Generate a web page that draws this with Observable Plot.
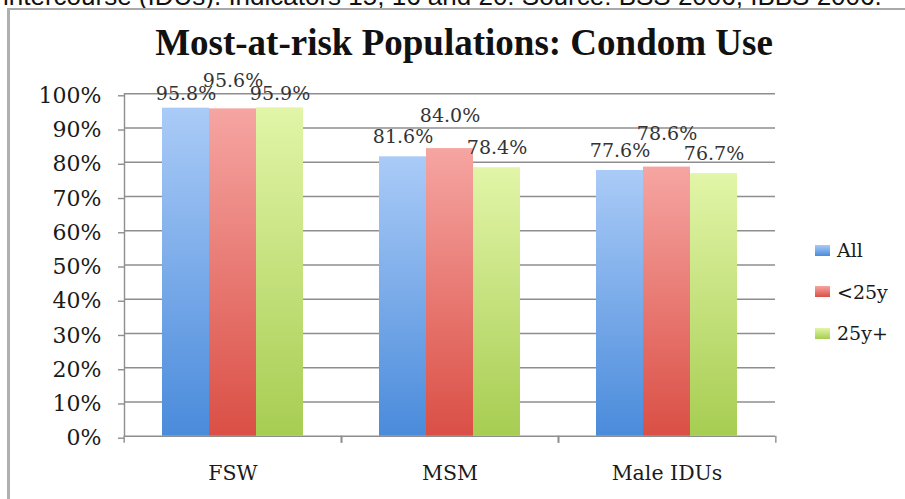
<!DOCTYPE html>
<html>
<head>
<meta charset="utf-8">
<script src="https://cdn.jsdelivr.net/npm/d3@7"></script>
<script src="https://cdn.jsdelivr.net/npm/@observablehq/plot@0.6"></script>
<style>
  html, body { margin: 0; padding: 0; background: #fff; }
  body { width: 905px; height: 499px; overflow: hidden; position: relative; }
  #note { position: absolute; left: 3px; top: -19px; white-space: nowrap; font: 26px "Liberation Sans", Arial, sans-serif; color: #111; line-height: normal; }
  #frame { position: absolute; left: 7px; top: 8px; width: 1000px; height: 700px; border-top: 2.5px solid #a9a9a9; border-left: 3px solid #b0b0b0; box-sizing: border-box; pointer-events: none; }
  #chart { position: absolute; left: 0; top: 0; }
  #title { position: absolute; left: 0; width: 928px; top: 24px; text-align: center; font: bold 37px "Liberation Serif", "Times New Roman", serif; line-height: 1; color: #111; white-space: nowrap; }
  .leg { position: absolute; font: 19px "DejaVu Serif", serif; line-height: 1; color: #1a1a1a; white-space: nowrap; }
  .sw { position: absolute; width: 15px; height: 11px; }
  #chart svg text { font-family: "DejaVu Serif", serif; }
</style>
</head>
<body>
<div id="chart"></div>
<div id="note">intercourse (IDUs). Indicators 15, 16 and 20. Source: BSS 2006, IBBS 2006.</div>
<div id="frame"></div>
<div id="title">Most-at-risk Populations: Condom Use</div>
<div id="legend"></div>
<script>
// ---- data ----
const categories = ["FSW", "MSM", "Male IDUs"];
const series = ["All", "<25y", "25y+"];
const valuesAll = [95.8, 81.6, 77.6];
const valuesUnder25 = [95.6, 84.0, 78.6];
const values25Plus = [95.9, 78.4, 76.7];
const yTicks = [0, 10, 20, 30, 40, 50, 60, 70, 80, 90, 100];

const seriesValues = [valuesAll, valuesUnder25, values25Plus];
const gradTop = ["#aacbf7", "#f6a5a2", "#e2f5a8"];
const gradBottom = ["#4a8bdb", "#da4f45", "#a7cd52"];
const gradIds = ["gAll", "gU25", "g25p"];

const data = [];
categories.forEach((c, i) => series.forEach((s, j) => data.push({category: c, series: s, value: seriesValues[j][i]})));

const W = 905, H = 499, mL = 123, mR = 129, mT = 93.3, mB = 63.3;
const half = (W - mL - mR) / categories.length / 2;
const grid = "#8e8e8e";
const serif = "DejaVu Serif, serif";
const label = d => d.value.toFixed(1) + "%";

const svg = Plot.plot({
  width: W, height: H,
  marginLeft: mL, marginRight: mR, marginTop: mT, marginBottom: mB,
  style: {background: "transparent", fontFamily: serif, color: "#1a1a1a"},
  fx: {domain: categories, padding: 0, label: null},
  x: {domain: series, paddingInner: 0, paddingOuter: 0.77, axis: null},
  y: {domain: [0, 100], axis: null},
  color: {domain: series, range: gradIds.map(id => `url(#${id})`)},
  marks: [
    Plot.ruleY(yTicks, {stroke: grid, strokeWidth: 1.4}),
    Plot.barY(data, {fx: "category", x: "series", y: "value", fill: "series"}),
    Plot.frame({anchor: "left", facetAnchor: "left", stroke: grid, strokeWidth: 1.4}),
    Plot.axisY({ticks: yTicks, tickFormat: d => d + "%", tickSize: 6, tickPadding: 17, stroke: grid, strokeWidth: 1.4, fontSize: 22, fontFamily: serif, dy: 2, fill: "#1a1a1a", label: null}),
    Plot.axisFx({anchor: "bottom", tickSize: 7, dx: -half, text: null, stroke: grid, strokeWidth: 1.4, label: null}),
    Plot.axisFx({anchor: "bottom", tickSize: 7, dx: half, text: null, stroke: grid, strokeWidth: 1.4, label: null}),
    Plot.axisFx({anchor: "bottom", tickSize: 0, tickPadding: 29, fontSize: 20.5, fontFamily: serif, fill: "#1a1a1a", label: null}),
    Plot.text(data.filter(d => d.series !== "<25y"), {fx: "category", x: "series", y: d => Math.min(d.value, 94.2), text: label, lineAnchor: "bottom", dy: -13.5, fontSize: 19, fontFamily: serif, fill: "#333"}),
    Plot.text(data.filter(d => d.series === "<25y"), {fx: "category", x: "series", y: d => Math.min(d.value, 94.2), text: label, lineAnchor: "bottom", dy: -27, fontSize: 19, fontFamily: serif, fill: "#333"})
  ]
});

// gradients for bars
const defs = d3.select(svg).insert("defs", ":first-child");
gradIds.forEach((id, i) => {
  const g = defs.append("linearGradient").attr("id", id).attr("x1", 0).attr("y1", 0).attr("x2", 0).attr("y2", 1);
  g.append("stop").attr("offset", "0%").attr("stop-color", gradTop[i]);
  g.append("stop").attr("offset", "100%").attr("stop-color", gradBottom[i]);
});
document.getElementById("chart").appendChild(svg);

// legend
const legend = document.getElementById("legend");
series.forEach((s, i) => {
  const base = 257 + i * 41.5;
  const sw = document.createElement("div");
  sw.className = "sw";
  sw.style.left = "815px";
  sw.style.top = (base - 12.5) + "px";
  sw.style.background = `linear-gradient(${gradTop[i]}, ${gradBottom[i]})`;
  legend.appendChild(sw);
  const t = document.createElement("div");
  t.className = "leg";
  t.style.left = "837px";
  t.style.top = (base - 16) + "px";
  t.textContent = s;
  legend.appendChild(t);
});
</script>
</body>
</html>
